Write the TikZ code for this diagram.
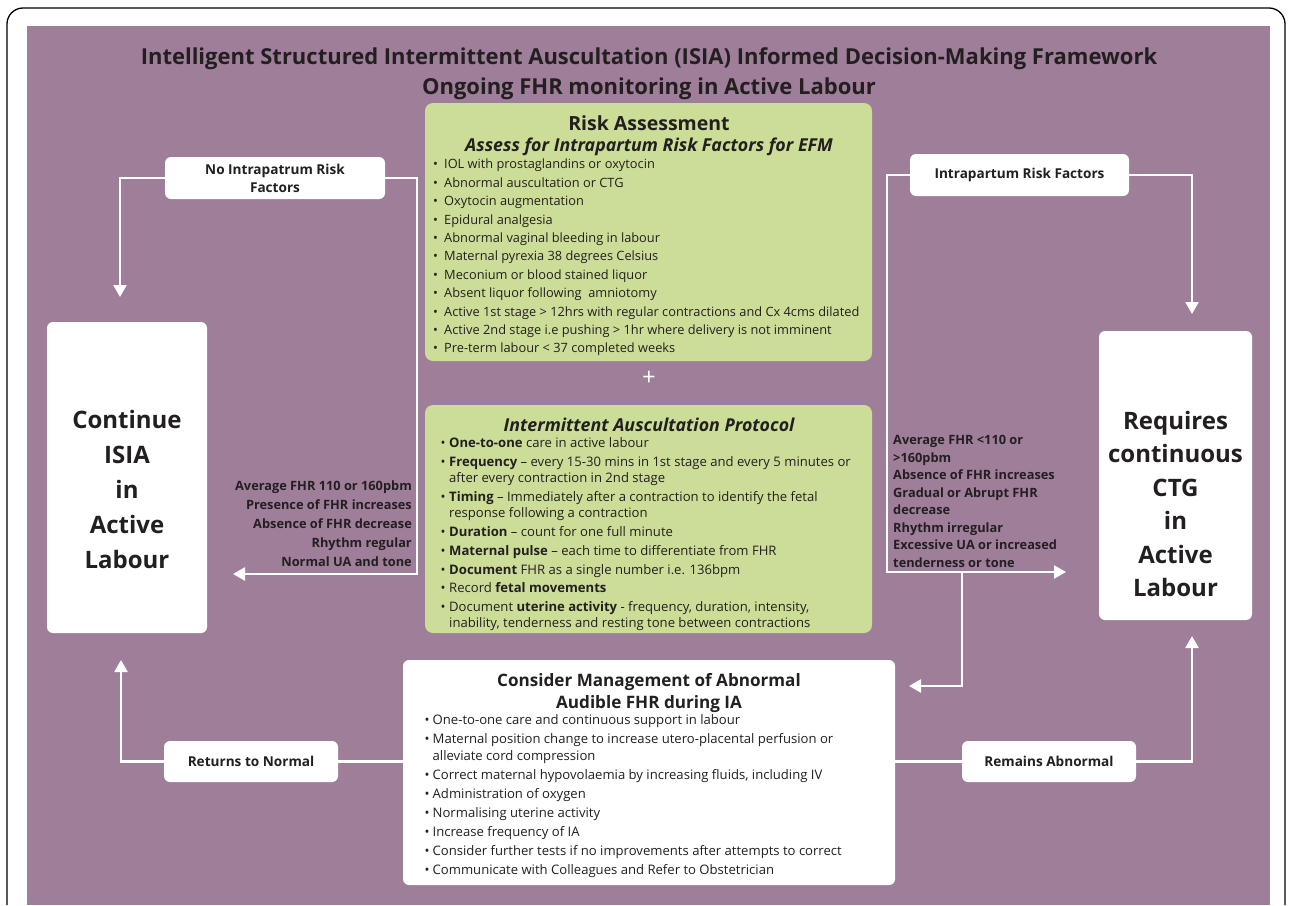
\documentclass[tikz,border=0pt]{standalone}
\usepackage{fontspec}
\setmainfont{Open Sans}
\usetikzlibrary{arrows.meta}
\definecolor{bgpurple}{RGB}{159,126,154}
\definecolor{boxgreen}{RGB}{204,221,152}
\definecolor{ink}{RGB}{35,31,32}
\newlength\bulw
\setlength\bulw{11pt}
\newcommand\bulitem{\makebox[\bulw][l]{\textbullet}}
\newcommand\bulcont{\hspace*{\bulw}}
\begin{document}
\begin{tikzpicture}[x=1pt,y=-1pt,
  wbox/.style={fill=white, rounded corners=6pt, inner sep=0pt, text=ink, align=center},
  gbox/.style={fill=boxgreen, rounded corners=8pt, inner sep=0pt},
  link/.style={draw=white, line width=2.5pt},
  flow/.style={draw=white, line width=2.5pt, -{Triangle[width=13pt,length=12pt]}},
  lbl/.style={font=\fontsize{13.6}{18}\selectfont\bfseries},
  txt/.style={text=ink, inner sep=0pt},
  ]
\useasboundingbox (0,0) rectangle (1289,905);
\fill[white] (0,0) rectangle (1289,905);
\draw[black, line width=1.3pt, rounded corners=16pt] (7,905) -- (7,8) -- (1285,8) -- (1285,905);
\fill[bgpurple] (27,26) rectangle (1270,905);

% title
\node[txt, font=\fontsize{22}{26}\selectfont\bfseries] (title1) at (649,59) {Intelligent Structured Intermittent Auscultation (ISIA) Informed Decision-Making Framework};
\node[txt, font=\fontsize{22}{26}\selectfont\bfseries] (title2) at (649,89) {Ongoing FHR monitoring in Active Labour};

% main boxes
\node[gbox, minimum width=447pt, minimum height=258pt] (risk) at (648.5,232) {};
\node[gbox, minimum width=447pt, minimum height=228pt] (iap) at (648.5,519) {};
\node[wbox, minimum width=492pt, minimum height=225pt] (mgmt) at (649,772.5) {};
\node[wbox, minimum width=160pt, minimum height=311pt] (cont) at (127,477.5) {};
\node[wbox, minimum width=153pt, minimum height=289pt] (req) at (1175.5,475.5) {};
\node[txt, align=center, font=\fontsize{24}{35}\selectfont\bfseries] (contt) at (127,489) {Continue\\ISIA\\in\\Active\\Labour};
\node[txt, align=center, font=\fontsize{24}{33.5}\selectfont\bfseries] (reqt) at (1175.5,504) {Requires\\continuous\\CTG\\in\\Active\\Labour};

% label boxes
\node[wbox, lbl, minimum width=220pt, minimum height=42pt] (nrf) at (275,178) {No Intrapatrum Risk\\Factors};
\node[wbox, lbl, minimum width=219pt, minimum height=42pt] (irf) at (1019.5,175) {Intrapartum Risk Factors};
\node[wbox, lbl, minimum width=174pt, minimum height=41pt] (rtn) at (251,761.5) {Returns to Normal};
\node[wbox, lbl, minimum width=174pt, minimum height=41pt] (ram) at (1049,761.5) {Remains Abnormal};

% risk box text
\node[txt, font=\fontsize{19.5}{22}\selectfont\bfseries] (riskt1) at (649,123) {Risk Assessment};
\node[txt, font=\fontsize{17.8}{20}\selectfont\bfseries\itshape] (riskt2) at (649,147) {Assess for Intrapartum Risk Factors for EFM};
\node[txt, anchor=north west, align=left, font={\fontsize{12.8}{18.4}\selectfont\setlength\bulw{11pt}}] (risklist) at (433,159) {%
\bulitem IOL with prostaglandins or oxytocin\\
\bulitem Abnormal auscultation or CTG\\
\bulitem Oxytocin augmentation\\
\bulitem Epidural analgesia\\
\bulitem Abnormal vaginal bleeding in labour\\
\bulitem Maternal pyrexia 38 degrees Celsius\\
\bulitem Meconium or blood stained liquor\\
\bulitem Absent liquor following\ \ amniotomy\\
\bulitem Active 1st stage > 12hrs with regular contractions and Cx 4cms dilated\\
\bulitem Active 2nd stage i.e pushing > 1hr where delivery is not imminent\\
\bulitem Pre-term labour < 37 completed weeks};

\node[txt, text=white, font=\fontsize{24}{24}\selectfont] (plus) at (649,378) {+};

% IA protocol text
\node[txt, font=\fontsize{17.8}{20}\selectfont\bfseries\itshape] (iapt) at (649,425) {Intermittent Auscultation Protocol};
\node[txt, anchor=north west, align=left, font={\fontsize{13.1}{16.2}\selectfont\setlength\bulw{8.5pt}}] (iaplist) at (440.5,437.5) {%
\bulitem\textbf{One-to-one} care in active labour\\[2.6pt]
\bulitem\textbf{Frequency} -- every 15-30 mins in 1st stage and every 5 minutes or\\
\bulcont after every contraction in 2nd stage\\[2.6pt]
\bulitem\textbf{Timing} -- Immediately after a contraction to identify the fetal\\
\bulcont response following a contraction\\[2.6pt]
\bulitem\textbf{Duration} -- count for one full minute\\[2.6pt]
\bulitem\textbf{Maternal pulse} -- each time to differentiate from FHR\\[2.6pt]
\bulitem\textbf{Document} FHR as a single number i.e. 136bpm\\[2.6pt]
\bulitem Record \textbf{fetal movements}\\[2.6pt]
\bulitem Document \textbf{uterine activity} - frequency, duration, intensity,\\
\bulcont inability, tenderness and resting tone between contractions};

% management text
\node[txt, align=center, font=\fontsize{17.1}{21}\selectfont\bfseries] (mgmtt) at (649,693) {Consider Management of Abnormal\\Audible FHR during IA};
\node[txt, anchor=north west, align=left, font={\fontsize{13.1}{17}\selectfont\setlength\bulw{8pt}}] (mgmtlist) at (424.5,714.5) {%
\bulitem One-to-one care and continuous support in labour\\[2pt]
\bulitem Maternal position change to increase utero-placental perfusion or\\
\bulcont alleviate cord compression\\[2pt]
\bulitem Correct maternal hypovolaemia by increasing fluids, including IV\\[2pt]
\bulitem Administration of oxygen\\[2pt]
\bulitem Normalising uterine activity\\[2pt]
\bulitem Increase frequency of IA\\[2pt]
\bulitem Consider further tests if no improvements after attempts to correct\\[2pt]
\bulitem Communicate with Colleagues and Refer to Obstetrician};

% side criteria
\node[txt, anchor=north east, align=right, font=\fontsize{12.8}{19}\selectfont\bfseries] (normcrit) at (412,481) {%
Average FHR 110 or 160pbm\\
Presence of FHR increases\\
Absence of FHR decrease\\
Rhythm regular\\
Normal UA and tone};
\node[txt, anchor=north west, align=left, font=\fontsize{12.8}{17.5}\selectfont\bfseries] (abncrit) at (893,435.5) {%
Average FHR <110 or\\
>160pbm\\
Absence of FHR increases\\
Gradual or Abrupt FHR\\
decrease\\
Rhythm irregular\\
Excessive UA or increased\\
tenderness or tone};

% connectors
\coordinate (nrfdown) at (120,297);
\coordinate (nrfturn) at (417,574);
\coordinate (nrfend) at (233,574);
\coordinate (irfturn) at (887,572);
\coordinate (irfend) at (1066,572);
\coordinate (irfdown) at (1192,314);
\coordinate (abnsplit) at (962,572);
\coordinate (abnend) at (909,686);
\coordinate (rtnup) at (121,660);
\coordinate (ramup) at (1192,636);

\draw[flow] (nrf.west) -| (nrfdown);
\draw[flow] (nrf.east) -| (nrfturn) -- (nrfend);
\draw[flow] (irf.west) -| (irfturn) -- (irfend);
\draw[flow] (irf.east) -| (irfdown);
\draw[flow] (abnsplit) |- (abnend);
\draw[link] (rtn.east) -- (rtn.east -| mgmt.west);
\draw[flow] (rtn.west) -| (rtnup);
\draw[link] (ram.west -| mgmt.east) -- (ram.west);
\draw[flow] (ram.east) -| (ramup);
\end{tikzpicture}
\end{document}
